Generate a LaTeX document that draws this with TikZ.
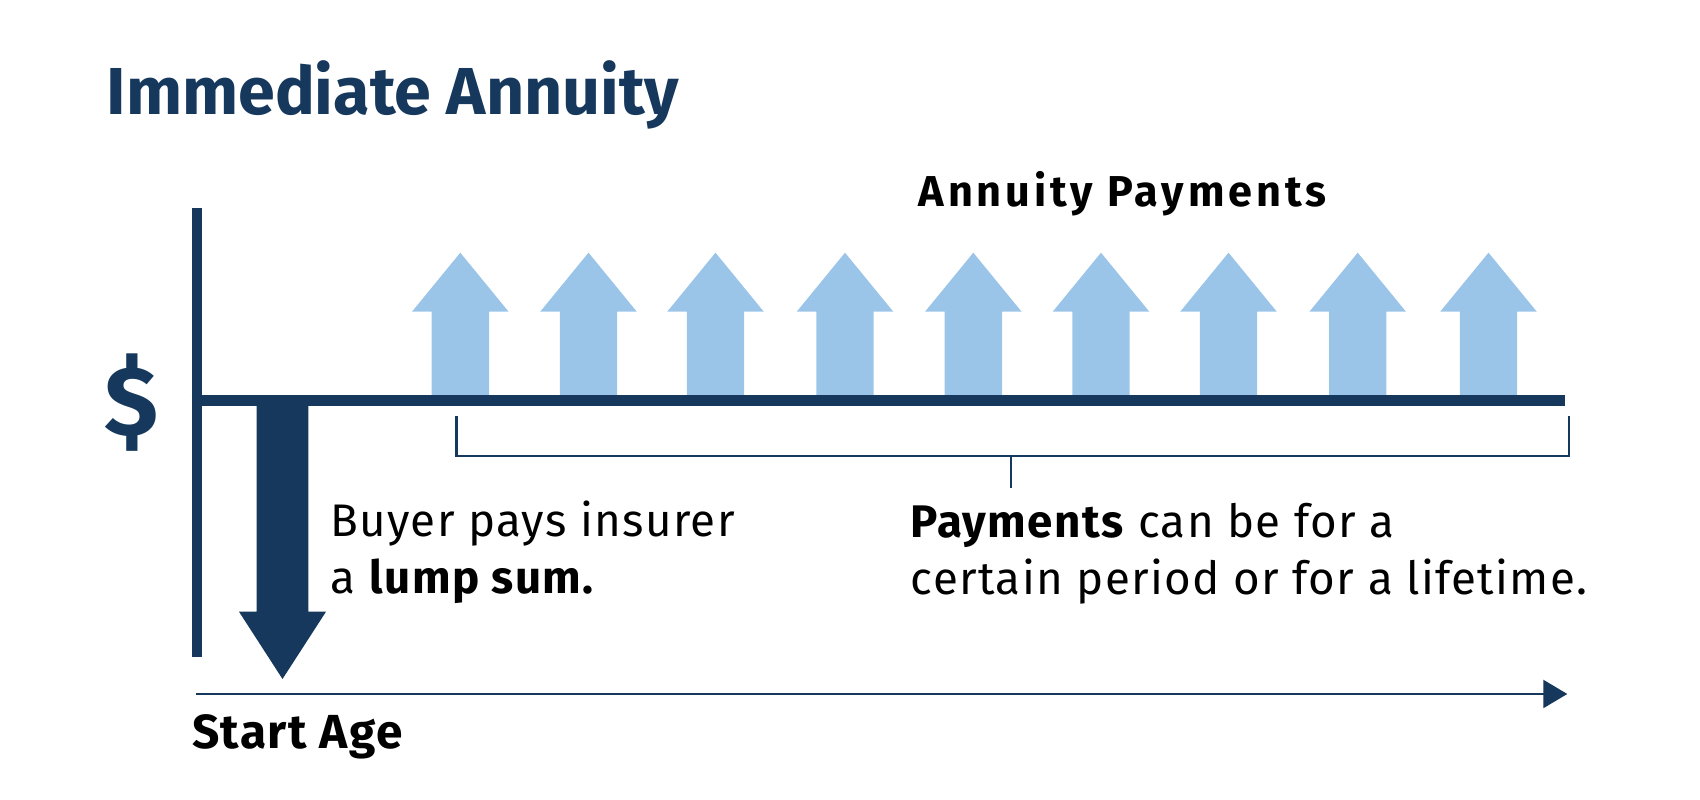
\documentclass[tikz,border=0pt]{standalone}
\usepackage{fontspec}
\setmainfont{Fira Sans}
\newfontfamily\bodyfont[LetterSpace=3]{Fira Sans}
\newfontfamily\headfont[LetterSpace=9]{Fira Sans}
\usepackage{tikz}
\usetikzlibrary{calc}
\usetikzlibrary{arrows.meta}
\definecolor{navy}{RGB}{21,56,92}
\definecolor{paleblue}{RGB}{155,197,232}
\newcommand*{\payarrow}[1]{\fill[paleblue] (#1-0.287,3.95) -- (#1-0.287,4.883) -- (#1-0.483,4.883) -- (#1,5.473) -- (#1+0.483,4.883) -- (#1+0.287,4.883) -- (#1+0.287,3.95) -- cycle;}

\begin{document}
\begin{tikzpicture}[
txt/.style={anchor=base west, inner sep=0pt, font=\bodyfont\fontsize{13}{15}\selectfont},
heading/.style={anchor=base west, inner sep=0pt, font=\headfont\fontsize{12.3}{14}\selectfont\bfseries},
axis/.style={navy, line width=0.1cm},
bracket/.style={navy, line width=0.6pt},
timeline/.style={navy, line width=0.6pt, -{Triangle[length=0.24cm, width=0.28cm]}}]

\useasboundingbox (0,0) rectangle (17,8);

\node[anchor=base west, inner sep=0pt, text=navy, font=\fontsize{18.9}{23}\selectfont\bfseries] (title) at (1.06, 6.85) {Immediate Annuity};
\node[heading] (payhead) at (9.18, 5.933) {Annuity Payments};

\payarrow{4.603}
\payarrow{5.885}
\payarrow{7.155}
\payarrow{8.450}
\payarrow{9.733}
\payarrow{11.010}
\payarrow{12.285}
\payarrow{13.577}
\payarrow{14.885}

\coordinate (ytop) at (1.967, 5.917);
\coordinate (ybot) at (1.967, 1.427);
\coordinate (xleft) at (1.917, 3.997);
\coordinate (xright) at (15.65, 3.997);

\draw[axis, line width=0.107cm] (xleft) -- (xright);
\draw[axis] (ytop) -- (ybot);

\node[inner sep=0pt, text=navy, font=\fontsize{28}{32}\selectfont\bfseries] (dollar) at (1.315, 3.975) {\$};

% lump sum going out
\fill[navy] (2.567, 3.997) -- (2.567, 1.883) -- (2.39, 1.883) -- (2.825, 1.21) -- (3.26, 1.883) -- (3.083, 1.883) -- (3.083, 3.997) -- cycle;

\node[txt] (buyer) at (3.293, 2.633) {Buyer pays insurer};
\node[txt] (lump) at ($(buyer.base west) + (0, -0.567)$) {a \textbf{lump sum.}};

\coordinate (bl) at (4.565, 3.84);
\coordinate (br) at (15.693, 3.84);
\coordinate (bmid) at (10.11, 3.44);
\coordinate (btick) at (10.11, 3.117);

\draw[bracket] (bl) |- (bmid) -| (br);
\draw[bracket] (bmid) -- (btick);

\node[txt] (pay1) at (9.10, 2.627) {\textbf{Payments} can be for a};
\node[txt] (pay2) at ($(pay1.base west) + (0, -0.577)$) {certain period or for a lifetime.};

\coordinate (tstart) at (1.96, 1.06);
\coordinate (tend) at (15.673, 1.06);
\draw[timeline] (tstart) -- (tend);

\node[anchor=base west, inner sep=0pt, font=\bodyfont\fontsize{13.6}{16}\selectfont\bfseries] (start) at (1.915, 0.51) {Start Age};

\end{tikzpicture}
\end{document}
